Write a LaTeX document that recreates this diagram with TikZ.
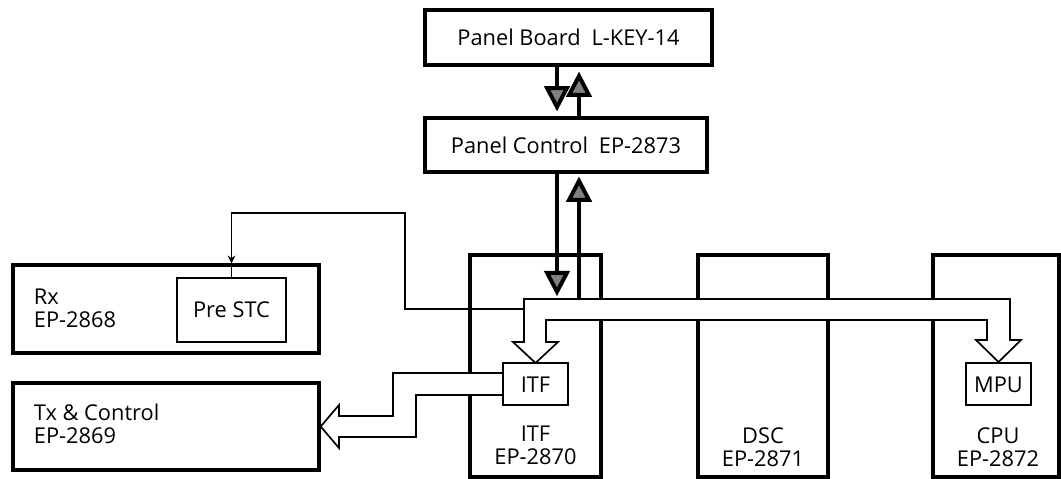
\documentclass[tikz,border=0pt]{standalone}
\usepackage{fontspec}
\setmainfont{Open Sans}
\usepackage{tikz}
\usetikzlibrary{arrows.meta}

\newlength{\pxu}
\setlength{\pxu}{0.025cm}

\tikzset{
  blk/.style={draw, line width=2.4pt, inner sep=0pt},
  sub/.style={draw, line width=1.5pt, fill=white, inner sep=0pt},
  chip/.style={sub, minimum width=65\pxu, minimum height=42\pxu, text height=1.2em, text depth=0pt},
  sig/.style={line width=2.8pt, -{Triangle[length=18pt, width=18pt, fill=gray]}},
  bus/.style={draw, line width=1.2pt, fill=white},
  fb/.style={line width=1pt},
}

\begin{document}
\begin{tikzpicture}[x=\pxu, y=-\pxu, font=\fontsize{15.5}{16.5}\selectfont]
        \useasboundingbox (0,0) rectangle (1061,479);
        % boards
        \node[blk, minimum width=287\pxu, minimum height=55\pxu] (pb) at (568.5,37.5) {Panel Board\enspace L-KEY-14};
        \node[blk, minimum width=282\pxu, minimum height=54\pxu] (pc) at (566,145) {Panel Control\enspace EP-2873};
        \node[blk, minimum width=306\pxu, minimum height=88\pxu] (rx) at (166,309) {};
        \node[blk, minimum width=306\pxu, minimum height=87\pxu] (tx) at (166,426.5) {};
        \node[blk, minimum width=131\pxu, minimum height=222\pxu] (itf) at (535.5,366) {};
        \node[blk, minimum width=130\pxu, minimum height=222\pxu] (dsc) at (763,366) {};
        \node[blk, minimum width=126\pxu, minimum height=222\pxu] (cpu) at (996,366) {};
        \node[right, align=left] at (29,308) {Rx\\EP-2868};
        \node[right, align=left] at (29,424) {Tx \& Control\\EP-2869};
        \node[align=center] at (535.5,445) {ITF\\EP-2870};
        \node[align=center] at (763,447) {DSC\\EP-2871};
        \node[align=center] at (998,447) {CPU\\EP-2872};
        \node[sub, minimum width=109\pxu, minimum height=64\pxu] (pre) at (231.5,310) {Pre STC};
        % panel lines
        \coordinate (dn) at (557,0);
        \coordinate (up) at (579,0);
        \coordinate (busL) at (524,299);
        \coordinate (fbs) at (524,309);
        \draw[sig, shorten >=3.5pt] (pb.south -| dn) -- (pc.north -| dn);
        \draw[sig, shorten >=3.5pt] (pc.north -| up) -- (pb.south -| up);
        \draw[sig, shorten >=2pt] (pc.south -| dn) -- (busL -| dn);
        \draw[sig, shorten >=2pt] (busL -| up) -- (pc.south -| up);
        \draw[fb, -{Stealth[length=5.5pt, width=5.5pt]}] (fbs) -| (405,213) -| (pre.north |- rx.north);
        \draw[fb] (pre.north |- rx.north) -- (pre.north);
        % data bus
        \draw[bus] (busL) -- (1010,299) -- (1010,340) -- (1021,340) -- (998.5,362) -- (976,340) -- (987,340)
            -- (987,320) -- (546,320) -- (546,342) -- (558,342) -- (535.5,363) -- (513,342) -- (524,342) -- cycle;
        \draw[bus] (503,373) -- (393,373) -- (393,416) -- (339,416) -- (339,405) -- (tx.east) -- (339,448)
            -- (339,437) -- (416,437) -- (416,395) -- (503,395);
        \node[chip] (itfs) at (535.5,384) {ITF};
        \node[chip] (mpu) at (998.5,384) {MPU};
    \end{tikzpicture}
\end{document}
